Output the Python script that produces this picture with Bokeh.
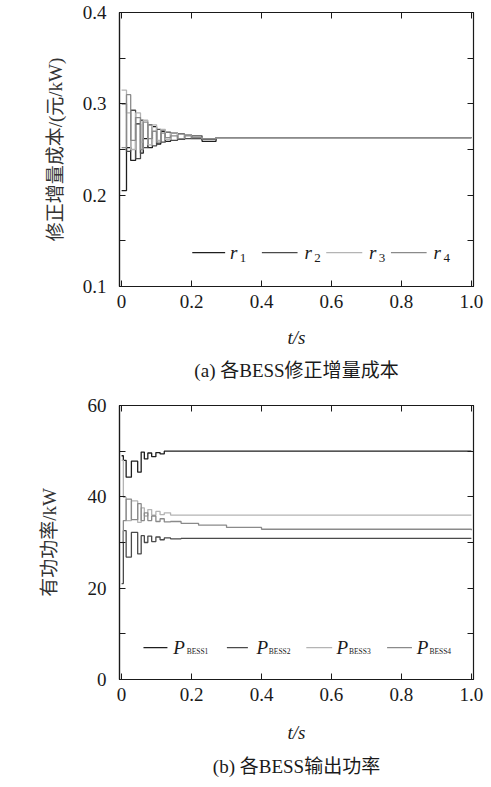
from bokeh.plotting import figure
from bokeh.models import Range1d, LinearAxis, FixedTicker, Title, Label
from bokeh.layouts import column
from bokeh.embed import file_html
from bokeh.resources import INLINE

# ---------------- data ----------------
# (a) corrected incremental cost of each BESS (step signals)
t_r = [0.000, 0.014, 0.026, 0.040, 0.054, 0.062, 0.075, 0.088, 0.100, 0.112,
       0.125, 0.140, 0.160, 0.180, 0.200, 0.230, 0.270, 1.000]
r1 = [0.205, 0.252, 0.238, 0.278, 0.246, 0.262, 0.252, 0.275, 0.256, 0.270,
      0.259, 0.268, 0.261, 0.266, 0.262, 0.259, 0.263, 0.263]
r2 = [0.300, 0.248, 0.293, 0.240, 0.282, 0.252, 0.277, 0.254, 0.272, 0.258,
      0.269, 0.260, 0.267, 0.262, 0.265, 0.261, 0.263, 0.263]
r3 = [0.315, 0.290, 0.250, 0.290, 0.258, 0.282, 0.255, 0.277, 0.260, 0.272,
      0.261, 0.268, 0.262, 0.266, 0.263, 0.262, 0.263, 0.263]
r4 = [0.252, 0.310, 0.260, 0.285, 0.250, 0.280, 0.262, 0.270, 0.258, 0.268,
      0.263, 0.265, 0.262, 0.265, 0.263, 0.262, 0.263, 0.263]

# (b) output power of each BESS (kW)
t_p = [0.000, 0.005, 0.013, 0.028, 0.046, 0.056, 0.065, 0.075, 0.086, 0.098,
       0.110, 0.122, 0.140, 0.170, 0.220, 0.300, 0.400, 1.000]
P1 = [49.0, 48.0, 44.3, 47.8, 45.4, 49.8, 48.3, 49.6, 48.8, 49.7,
      49.4, 50.0, 50.0, 50.0, 50.0, 50.0, 50.0, 50.0]
P2 = [21.0, 32.6, 26.8, 32.2, 27.5, 31.5, 30.0, 31.4, 30.2, 31.2,
      30.6, 31.0, 30.8, 30.9, 30.9, 30.9, 30.9, 30.9]
P3 = [48.0, 39.9, 34.8, 39.1, 34.4, 37.6, 35.8, 37.2, 36.0, 36.8,
      36.1, 36.5, 36.0, 36.0, 36.0, 36.0, 36.0, 36.0]
P4 = [30.0, 34.8, 39.5, 35.0, 38.5, 34.8, 36.5, 34.8, 35.8, 34.6,
      35.2, 34.5, 34.6, 34.2, 33.8, 33.3, 32.9, 32.7]

X_TICKS = [0, 0.2, 0.4, 0.6, 0.8, 1.0]
X_TICK_LABELS = {0: "0", 0.2: "0.2", 0.4: "0.4", 0.6: "0.6", 0.8: "0.8", 1.0: "1.0"}
R_TICKS = [0.1, 0.2, 0.3, 0.4]
R_MINOR = [0.15, 0.25, 0.35]
P_TICKS = [0, 20, 40, 60]
P_MINOR = [10, 30, 50]

R_NAMES = [("r", "1"), ("r", "2"), ("r", "3"), ("r", "4")]
P_NAMES = [("P", "BESS1"), ("P", "BESS2"), ("P", "BESS3"), ("P", "BESS4")]

X_LABEL = "t/s"
R_YLABEL = "修正增量成本/(元/kW)"
P_YLABEL = "有功功率/kW"
R_CAPTION = "(a) 各BESS修正增量成本"
P_CAPTION = "(b) 各BESS输出功率"

# ---------------- styles / layout ----------------
COLORS = ["#1e1e1e", "#4a4a4a", "#b4b4b4", "#8a8a8a"]
INK = "#1a1a1a"
SERIF = "Liberation Serif"
MIXED = "Liberation Serif, Noto Sans CJK SC"

# legend layout (data units of each panel)
R_LEG = dict(y=0.137, dy=0.0055, x0=[0.202, 0.401, 0.585, 0.770],
             x1=[0.296, 0.503, 0.688, 0.872], tx=[0.310, 0.523, 0.707, 0.892],
             sx=[0.338, 0.551, 0.735, 0.920], main="19px", sub="13px")
P_LEG = dict(y=7.0, dy=0.9, x0=[0.0625, 0.301, 0.528, 0.759],
             x1=[0.131, 0.361, 0.602, 0.830], tx=[0.148, 0.386, 0.614, 0.844],
             sx=[0.186, 0.421, 0.650, 0.880], main="19px", sub="7.5px")


def make_fig(height, border_top, border_bottom, y_lo, y_hi, yticks, yminor,
             ylabel, ylabel_standoff, xlabel_standoff, caption, cap_standoff):
    p = figure(width=491, height=height,
               x_range=Range1d(-0.006, 1.006), y_range=Range1d(y_lo, y_hi),
               output_backend="svg", toolbar_location=None,
               min_border_left=119, min_border_right=18,
               min_border_top=border_top, min_border_bottom=border_bottom,
               background_fill_color="white", border_fill_color="white")
    p.grid.visible = False
    p.outline_line_color = INK
    p.outline_line_width = 1.2

    xt = FixedTicker(ticks=X_TICKS, minor_ticks=[])
    yt = FixedTicker(ticks=yticks, minor_ticks=yminor)

    xa = p.xaxis[0]
    xa.ticker = xt
    xa.major_label_overrides = X_TICK_LABELS
    xa.axis_label = X_LABEL
    xa.axis_label_text_font = SERIF
    xa.axis_label_text_font_style = "italic"
    xa.axis_label_text_font_size = "19px"
    xa.axis_label_text_color = INK
    xa.axis_label_standoff = xlabel_standoff
    xa.major_label_standoff = 8

    ya = p.yaxis[0]
    ya.ticker = yt
    ya.axis_label = ylabel
    ya.axis_label_text_font = MIXED
    ya.axis_label_text_font_style = "normal"
    ya.axis_label_text_font_size = "19px"
    ya.axis_label_text_color = "#333333"
    ya.axis_label_standoff = ylabel_standoff
    ya.major_label_standoff = 13

    for ax in (xa, ya):
        ax.major_label_text_font = SERIF
        ax.major_label_text_font_size = "19px"
        ax.major_label_text_color = INK
        ax.axis_line_color = INK
        ax.axis_line_width = 1.2
        ax.major_tick_in = 6
        ax.major_tick_out = 0
        ax.minor_tick_in = 6
        ax.minor_tick_out = 0
        ax.major_tick_line_color = INK
        ax.minor_tick_line_color = INK

    # mirrored ticks on the right and top edges (no labels painted)
    for ticker, side in ((yt, "right"), (xt, "above")):
        m = LinearAxis(ticker=ticker, major_label_text_font_size="1px",
                       major_label_text_color=None,
                       major_label_standoff=0, major_tick_in=6, major_tick_out=0,
                       minor_tick_in=6, minor_tick_out=0,
                       axis_line_color=INK, major_tick_line_color=INK,
                       minor_tick_line_color=INK)
        p.add_layout(m, side)

    cap = Title(text=caption, align="center", text_font=MIXED,
                text_font_size="19px", text_font_style="normal",
                text_color=INK, standoff=cap_standoff)
    p.add_layout(cap, "below")
    return p


def add_series(p, t, series, names, leg):
    for y, c in zip(series, COLORS):
        p.step(x=t, y=y, mode="after", line_color=c, line_width=1.3)
    n = len(series)
    p.segment(x0=leg["x0"], y0=[leg["y"]] * n, x1=leg["x1"], y1=[leg["y"]] * n,
              line_color=COLORS, line_width=1.3)
    for i, (main, sub) in enumerate(names):
        p.add_layout(Label(x=leg["tx"][i], y=leg["y"], text=main,
                           text_font=SERIF, text_font_style="italic",
                           text_font_size=leg["main"], text_baseline="middle",
                           text_align="left", text_color=INK))
        p.add_layout(Label(x=leg["sx"][i], y=leg["y"] - leg["dy"], text=sub,
                           text_font=SERIF, text_font_style="normal",
                           text_font_size=leg["sub"], text_baseline="middle",
                           text_align="left", text_color=INK))


p1 = make_fig(392, 12, 106, 0.1, 0.4, R_TICKS, R_MINOR, R_YLABEL, 14, 16,
              R_CAPTION, 14)
add_series(p1, t_r, [r1, r2, r3, r4], R_NAMES, R_LEG)

p2 = make_fig(395, 13, 108, 0, 60, P_TICKS, P_MINOR, P_YLABEL, 25, 18,
              P_CAPTION, 16)
add_series(p2, t_p, [P1, P2, P3, P4], P_NAMES, P_LEG)

layout = column(p1, p2, spacing=0)
open("out.html", "w").write(file_html(layout, INLINE))
